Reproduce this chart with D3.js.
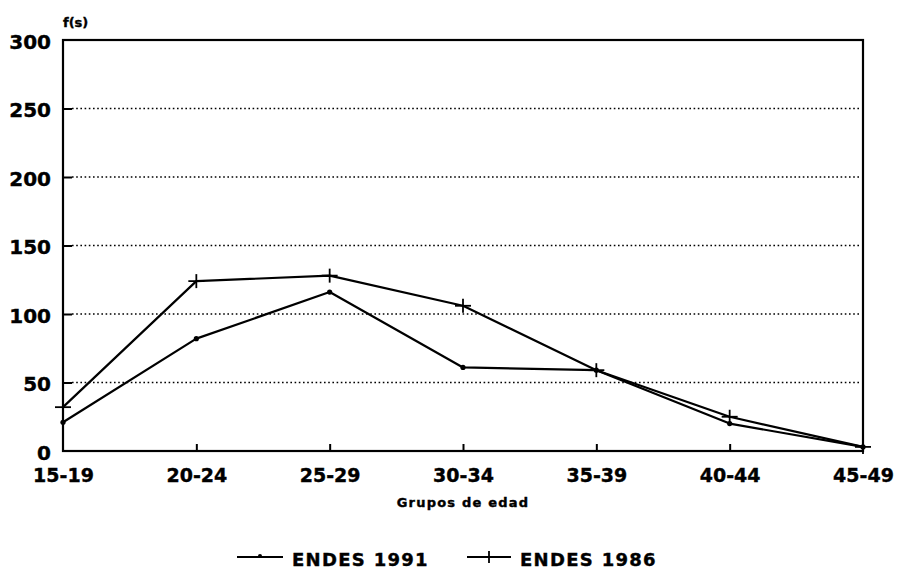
<!DOCTYPE html>
<html>
<head>
  <meta charset="utf-8">
  <script src="https://d3js.org/d3.v7.min.js"></script>
  <style>
    body{margin:0;background:#fff;}
    svg{display:block;font-family:"DejaVu Sans",sans-serif;font-weight:bold;}
    svg text{stroke:#000;stroke-width:0.4px;}
  </style>
</head>
<body>
<svg></svg>
<script>
  // datos
  var grupos = ["15-19","20-24","25-29","30-34","35-39","40-44","45-49"];
  var endes1991 = [21, 82, 116, 61, 59, 20, 3];
  var endes1986 = [32, 124, 128, 106, 59, 25, 3];
  var yTicks = [0, 50, 100, 150, 200, 250, 300];

  var W = 901, H = 572;
  // ojo: "top" choca con window.top
  var mIzq = 63, mDer = 863, mSup = 40, mInf = 451;

  var svg = d3.select("svg").attr("width", W).attr("height", H);

  var x = d3.scalePoint().domain(grupos).range([mIzq, mDer]);
  var y = d3.scaleLinear().domain([0, 300]).range([mInf, mSup]);

  // rejilla punteada
  svg.append("g").selectAll("line")
    .data(yTicks.filter(function(d){ return d > 0 && d < 300; }))
    .enter().append("line")
      .attr("x1", mIzq + 9).attr("x2", mDer - 4)
      .attr("y1", function(d){ return y(d); })
      .attr("y2", function(d){ return y(d); })
      .attr("stroke", "#000").attr("stroke-width", 1.6)
      .attr("stroke-dasharray", "1.6,2.6");

  // eje y
  var yAxis = d3.axisLeft(y).tickValues(yTicks).tickSize(-9).tickPadding(12);
  var gy = svg.append("g").attr("transform", "translate(" + mIzq + ",0)").call(yAxis);
  gy.select(".domain").remove();
  gy.selectAll(".tick line").attr("stroke", "#000").attr("stroke-width", 2)
    .attr("display", function(d){ return (d === 0 || d === 300) ? "none" : null; });
  gy.selectAll("text").attr("font-size", 20).attr("font-family", "DejaVu Sans")
    .attr("font-weight", "bold").attr("fill", "#000").attr("dy", "0.4em");

  // eje x
  var xAxis = d3.axisBottom(x).tickSize(-7).tickPadding(17);
  var gx = svg.append("g").attr("transform", "translate(0," + mInf + ")").call(xAxis);
  gx.select(".domain").remove();
  gx.selectAll(".tick line").attr("stroke", "#000").attr("stroke-width", 2)
    .attr("display", function(d, i){ return (i === 0 || i === grupos.length - 1) ? "none" : null; });
  gx.selectAll("text").attr("font-size", 19).attr("font-family", "DejaVu Sans")
    .attr("font-weight", "bold").attr("fill", "#000").attr("dy", "0.75em");

  // marco
  svg.append("rect")
    .attr("x", mIzq).attr("y", mSup)
    .attr("width", mDer - mIzq).attr("height", mInf - mSup)
    .attr("fill", "none").attr("stroke", "#000").attr("stroke-width", 2.2);

  // lineas
  var line = d3.line()
    .x(function(d, i){ return x(grupos[i]); })
    .y(function(d){ return y(d); });

  [endes1991, endes1986].forEach(function(serie){
    svg.append("path").datum(serie)
      .attr("d", line)
      .attr("fill", "none").attr("stroke", "#000").attr("stroke-width", 2.2)
      .attr("stroke-linejoin", "round");
  });

  // marcadores 1991: puntos
  svg.append("g").selectAll("circle").data(endes1991).enter().append("circle")
    .attr("cx", function(d, i){ return x(grupos[i]); })
    .attr("cy", function(d){ return y(d); })
    .attr("r", 2.6).attr("fill", "#000");

  // marcadores 1986: cruces
  var cruz = svg.append("g").selectAll("g").data(endes1986).enter().append("g")
    .attr("transform", function(d, i){ return "translate(" + x(grupos[i]) + "," + y(d) + ")"; });
  cruz.append("line").attr("x1", 0).attr("x2", 0).attr("y1", -7).attr("y2", 7)
    .attr("stroke", "#000").attr("stroke-width", 1.8);
  cruz.append("line").attr("x1", -8).attr("x2", 8).attr("y1", 0).attr("y2", 0)
    .attr("stroke", "#000").attr("stroke-width", 1.8);

  // titulos
  svg.append("text").attr("x", mIzq).attr("y", 27)
    .attr("font-size", 13).text("f(s)");

  svg.append("text").attr("x", x("30-34")).attr("y", 507)
    .attr("text-anchor", "middle").attr("font-size", 13)
    .attr("letter-spacing", 1.2).text("Grupos de edad");

  // leyenda
  var leyenda = [
    {nombre: "ENDES 1991", x1: 237, x2: 283, tx: 292, marca: "punto"},
    {nombre: "ENDES 1986", x1: 467, x2: 511, tx: 520, marca: "cruz"}
  ];
  var ly = 557;
  var lg = svg.append("g").selectAll("g").data(leyenda).enter().append("g");
  lg.append("line")
    .attr("x1", function(d){ return d.x1; }).attr("x2", function(d){ return d.x2; })
    .attr("y1", ly).attr("y2", ly)
    .attr("stroke", "#000").attr("stroke-width", 2);
  lg.filter(function(d){ return d.marca === "punto"; }).append("circle")
    .attr("cx", function(d){ return (d.x1 + d.x2) / 2; }).attr("cy", ly - 1)
    .attr("r", 2).attr("fill", "#000");
  lg.filter(function(d){ return d.marca === "cruz"; }).append("line")
    .attr("x1", function(d){ return (d.x1 + d.x2) / 2; })
    .attr("x2", function(d){ return (d.x1 + d.x2) / 2; })
    .attr("y1", ly - 6).attr("y2", ly + 6)
    .attr("stroke", "#000").attr("stroke-width", 1.8);
  lg.append("text")
    .attr("x", function(d){ return d.tx; }).attr("y", ly + 9)
    .attr("font-size", 18).attr("letter-spacing", 1.3)
    .text(function(d){ return d.nombre; });
</script>
</body>
</html>
